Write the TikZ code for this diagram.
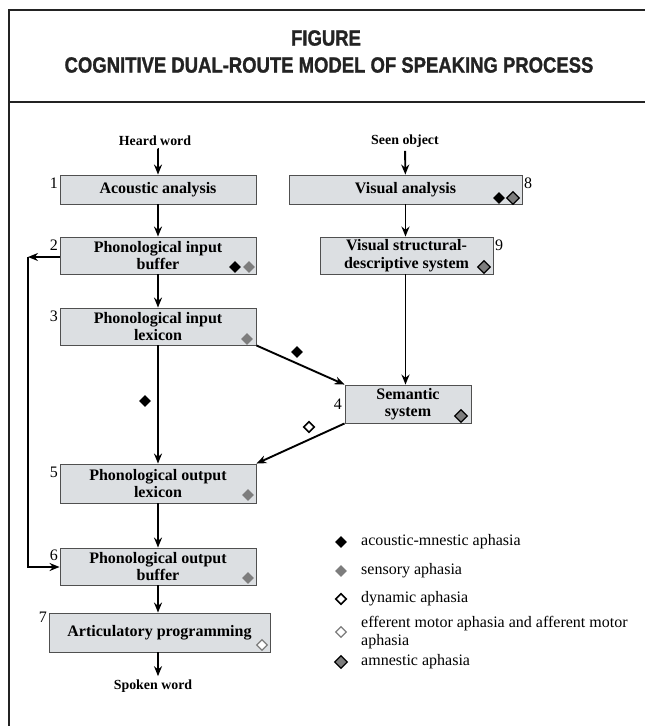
\documentclass[tikz,border=0pt]{standalone}
\usepackage{fontspec}
\setmainfont{Liberation Serif}
\newfontfamily\titlefont[FakeStretch=0.84, FakeBold=1.2]{Liberation Sans Bold}
\usepackage{tikz}
\usetikzlibrary{arrows.meta,shapes.geometric}
\definecolor{boxfill}{RGB}{220,223,226}
\definecolor{boxline}{RGB}{80,80,80}
\definecolor{markgray}{RGB}{125,125,125}
\definecolor{framecol}{RGB}{35,35,35}
\tikzset{procbox/.style={rectangle, draw=boxline, fill=boxfill, line width=0.9pt, inner sep=0pt, align=center, font=\fontsize{16}{17.5}\selectfont\bfseries}}
\tikzset{arr/.style={-{Stealth[length=10pt,width=8pt]}, line width=1.9pt}}
\tikzset{numlab/.style={font=\fontsize{16}{16}\selectfont, inner sep=1.5pt}}
\tikzset{ioword/.style={font=\fontsize{13.9}{14}\selectfont\bfseries}}
\tikzset{titlefnt/.style={font=\titlefont\fontsize{22}{24}\selectfont, text=framecol}}
\tikzset{legtext/.style={anchor=west, align=left, inner sep=0pt, font=\fontsize{16}{18}\selectfont}}
\tikzset{dmd/.style={diamond, inner sep=0pt, minimum width=#1, minimum height=#1}}
\tikzset{dmd/.default=12pt}
\tikzset{acmn/.style={dmd, fill=black}}
\tikzset{sens/.style={dmd, fill=markgray}}
\tikzset{dyn/.style={dmd=11pt, draw=black, line width=1.6pt, fill=white}}
\tikzset{effr/.style={dmd=11pt, draw=markgray, line width=1.3pt, fill=white}}
\tikzset{amns/.style={dmd=13pt, draw=black, line width=1.3pt, fill=markgray}}

\begin{document}
\begin{tikzpicture}[x=1pt, y=-1pt]
\useasboundingbox (0,0) rectangle (645,726);
\clip (0,0) rectangle (645,726);
% frame and heading
\draw[line width=2pt, framecol] (9,10) rectangle (700,800);
\draw[line width=2pt, framecol] (9,102) -- (700,102);
\node (fig) at (326,38)[titlefnt]{FIGURE};
\node (ttl) at (329,65)[titlefnt]{COGNITIVE DUAL-ROUTE MODEL OF SPEAKING PROCESS};

% auditory route
\node (heard) at (155,141)[ioword]{Heard word};
\node (b1) at (158,189.5)[procbox, minimum width=196pt, minimum height=29pt, label={[numlab, anchor=north east, yshift=-2pt]north west:1}]{Acoustic analysis};
\node (b2) at (158,255.5)[procbox, minimum width=196pt, minimum height=37pt, label={[numlab, anchor=north east, yshift=-2pt]north west:2}]{Phonological input\\buffer};
\node (b3) at (158,326.5)[procbox, minimum width=196pt, minimum height=37pt, label={[numlab, anchor=north east, yshift=-2pt]north west:3}]{Phonological input\\lexicon};
\node (b5) at (158,483.5)[procbox, minimum width=196pt, minimum height=39pt, label={[numlab, anchor=north east, yshift=-2pt]north west:5}]{Phonological output\\lexicon};
\node (b6) at (158,566.5)[procbox, minimum width=196pt, minimum height=37pt, label={[numlab, anchor=north east, yshift=-1pt]north west:6}]{Phonological output\\buffer};
\node (b7) at (159.5,632.5)[procbox, minimum width=221pt, minimum height=39pt, label={[numlab, anchor=north east, yshift=2pt]north west:7}]{Articulatory programming};
\node (spoken) at (153,686)[ioword]{Spoken word};

% visual route
\node (seen) at (405,141)[ioword]{Seen object};
\node (b8) at (405.5,189.5)[procbox, minimum width=233pt, minimum height=29pt, label={[numlab, anchor=north west, yshift=-2pt]north east:8}]{Visual analysis};
\node (b9) at (406.5,255.5)[procbox, minimum width=173pt, minimum height=37pt, label={[numlab, anchor=north west, yshift=-2pt]north east:9}]{Visual structural-\\descriptive system};
\node (b4) at (408,404)[procbox, minimum width=126pt, minimum height=38pt, label={[numlab, xshift=-1pt]left:4}]{Semantic\\system};

\coordinate (fbtop) at (28,257);
\coordinate (fbbot) at (28,567);

\draw[arr] (heard) -- (heard.south -| b1.north) -- (b1.north);
\draw[arr] (b1) -- (b2);
\draw[arr] (b2) -- (b3);
\draw[arr] (b3) -- (b5);
\draw[arr] (b5) -- (b6);
\draw[arr] (b6) -- (b6.south |- b7.north);
\draw[arr] (b6.south |- b7.south) -- (b6.south |- spoken.north);
\draw[arr] (seen) -- (b8);
\draw[arr] (b8) -- (b8.south |- b9.north);
\draw[arr] (b8.south |- b9.south) -- (b8.south |- b4.north);
\draw[arr] (b3.south east) -- (b4.north west);
\draw[arr] (b4.south west) -- (b5.north east);
\draw[arr] (b2.west |- fbtop) -- (fbtop);
\draw[arr] (fbtop) -- (fbbot) -- (b6.west |- fbbot);

% aphasia marks
\node (m2a) at (235,267)[acmn]{};
\node (m2b) at (249,267)[sens]{};
\node (m3) at (247,339)[sens]{};
\node (m5) at (248,495)[sens]{};
\node (m6) at (248,578)[sens]{};
\node (m7) at (262,645)[effr]{};
\node (m8a) at (499,198)[acmn]{};
\node (m8b) at (513,198)[amns]{};
\node (m9) at (484,267)[amns]{};
\node (m4) at (461,416)[amns]{};
\node (m35) at (145,401)[acmn]{};
\node (m34) at (297,352)[acmn]{};
\node (m45) at (309,427)[dyn]{};

% legend
\node (lg1) at (341,542)[acmn]{};
\node (lg2) at (341,571)[sens]{};
\node (lg3) at (341,599)[dyn]{};
\node (lg4) at (341,632)[effr]{};
\node (lg5) at (341,662)[amns]{};
\node (lt1) at (361,542)[legtext]{acoustic-mnestic aphasia};
\node (lt2) at (361,571)[legtext]{sensory aphasia};
\node (lt3) at (361,599)[legtext]{dynamic aphasia};
\node (lt4) at (361,633)[legtext]{efferent motor aphasia and afferent motor\\aphasia};
\node (lt5) at (361,662)[legtext]{amnestic aphasia};
\end{tikzpicture}
\end{document}
